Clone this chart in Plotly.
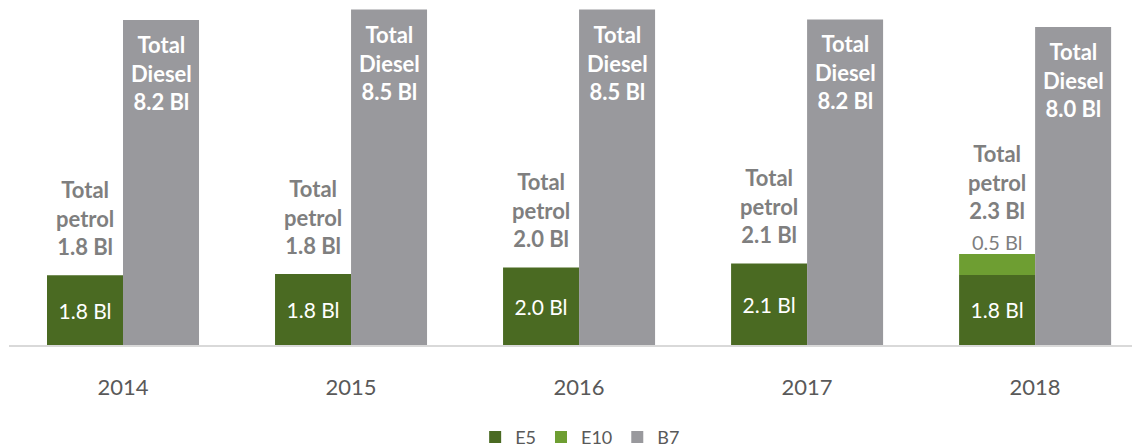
import plotly.graph_objects as go

years = ["2014", "2015", "2016", "2017", "2018"]
e5 = [1.76, 1.79, 1.96, 2.06, 1.77]
e10 = [0.0, 0.0, 0.0, 0.0, 0.53]
b7 = [8.21, 8.47, 8.47, 8.22, 8.03]

C_E5 = "#4a6a22"
C_E10 = "#6e9e32"
C_B7 = "#99999d"
TXT = "#7f7f7f"
FONT = "Lato"

bw = 1 / 3
petrol_total = [a + b for a, b in zip(e5, e10)]

fig = go.Figure()
fig.add_trace(go.Bar(
    name="E5", x=years, y=e5, width=bw, offset=-bw,
    marker=dict(color=C_E5, line=dict(width=0)),
    text=[f"{v:.1f} Bl" for v in e5], textposition="inside",
    insidetextanchor="middle",
    textfont=dict(family=FONT, size=21, color="white"),
))
fig.add_trace(go.Bar(
    name="E10", x=years, y=e10, base=e5, width=bw, offset=-bw,
    marker=dict(color=C_E10, line=dict(width=0)),
))
fig.add_trace(go.Bar(
    name="B7", x=years, y=b7, width=bw, offset=0,
    marker=dict(color=C_B7, line=dict(width=0)),
))

for i, (yr, tot, v10, d) in enumerate(zip(years, petrol_total, e10, b7)):
    xc = i - bw / 2
    extra = 0
    if v10 > 0:
        fig.add_annotation(x=xc, y=tot, text=f"{v10:.1f} Bl", showarrow=False,
                           yanchor="bottom", yshift=-2,
                           font=dict(family=FONT, size=20, color=TXT))
        extra = 15
    fig.add_annotation(x=xc, y=tot, text=f"<b>Total<br>petrol<br>{tot:.1f} Bl</b>",
                       showarrow=False, yanchor="bottom", yshift=13 + extra,
                       font=dict(family=FONT, size=22, color=TXT))
    fig.add_annotation(x=i + bw / 2, y=d, text=f"<b>Total<br>Diesel<br>{d:.1f} Bl</b>",
                       showarrow=False, yanchor="top", yshift=-9,
                       font=dict(family=FONT, size=22, color="white"))

fig.update_layout(
    width=1132, height=440,
    margin=dict(l=1, r=0, t=0, b=103, autoexpand=False),
    barmode="overlay",
    plot_bgcolor="white", paper_bgcolor="white",
    showlegend=True,
    legend=dict(orientation="h", x=0.505, xanchor="center", y=-0.329, yanchor="bottom",
                font=dict(family=FONT, size=18, color="#595959"),
                traceorder="normal", itemwidth=30),
    font=dict(family=FONT),
)
fig.update_xaxes(type="category", range=[-0.5, 4.46], showline=True,
                 automargin=False,
                 linecolor="#d9d9d9", linewidth=1.5, ticks="",
                 ticklabelstandoff=22,
                 tickfont=dict(family=FONT, size=22, color="#595959"),
                 showgrid=False, zeroline=False)
fig.update_yaxes(range=[0, 8.51], visible=False, automargin=False,
                 showgrid=False, zeroline=False)

fig.write_html("out.html")
